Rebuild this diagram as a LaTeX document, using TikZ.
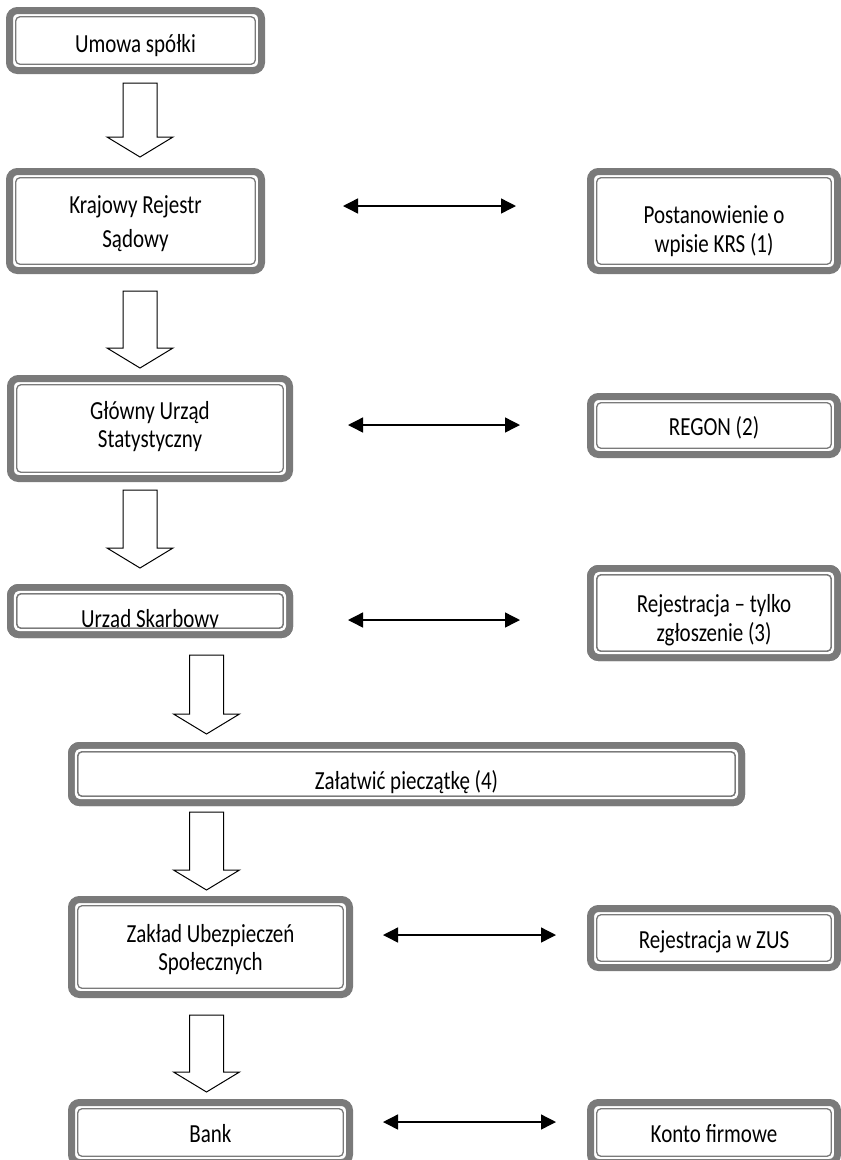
\documentclass[tikz,border=0pt]{standalone}
\usepackage{fontspec}
\setmainfont{Carlito}
\usepackage{graphicx}
\usetikzlibrary{arrows.meta}
\definecolor{boxgray}{RGB}{122,122,122}
% #1 raise of first baseline above centre (pt), #2 baselineskip before scaling, #3 lines
\newcommand\T[3]{\raisebox{#1pt}[0pt][0pt]{\scalebox{1}[1.24]{\fontsize{21}{#2}\selectfont\begin{tabular}[t]{@{}c@{}}#3\end{tabular}}}}
% #1 centre x, #2 top y, #3 tip y
\newcommand\blockarrow[3]{\draw[barrow] ({#1-17},#2) -- ({#1+17},#2) -- ({#1+17},{#3-20}) -- ({#1+33},{#3-20}) -- (#1,#3) -- ({#1-33},{#3-20}) -- ({#1-17},{#3-20}) -- cycle;}
% redraw a box frame over its text (text clipped by the frame, as in the reference)
\newcommand\reframe[1]{%
  \draw[boxgray, line width=7pt, rounded corners=8pt] ([shift={(3.5pt,-3.5pt)}]#1.north west) rectangle ([shift={(-3.5pt,3.5pt)}]#1.south east);
  \draw[white, line width=2.4pt, rounded corners=5pt] ([shift={(8pt,-8pt)}]#1.north west) rectangle ([shift={(-8pt,8pt)}]#1.south east);
  \draw[boxgray, line width=1.3pt, rounded corners=4pt] ([shift={(9.8pt,-9.8pt)}]#1.north west) rectangle ([shift={(-9.8pt,9.8pt)}]#1.south east);}
\tikzset{
  box/.style={draw=boxgray, line width=7pt, rounded corners=8pt, fill=white, inner sep=0pt,
    path picture={\draw[boxgray, line width=1.3pt, rounded corners=4pt]
      ([shift={(6.3pt,-6.3pt)}]path picture bounding box.north west) rectangle
      ([shift={(-6.3pt,6.3pt)}]path picture bounding box.south east);}},
  barrow/.style={draw=black, line width=1pt, fill=white, line join=miter},
  dblarrow/.style={line width=1.4pt, {Triangle[length=15pt,width=15pt]}-{Triangle[length=15pt,width=15pt]}}
}
\begin{document}
\begin{tikzpicture}[x=1pt,y=-1pt]
\useasboundingbox[fill=white] (0,0) rectangle (841,1160);

% left column
\node[box, minimum width=252pt, minimum height=60pt] (A) at (135.5,40.5) {\T{-11.5}{20}{Umowa spółki}};
\node[box, minimum width=252pt, minimum height=99pt] (B) at (135.5,221) {\T{8}{28.2}{Krajowy Rejestr\\Sądowy}};
\node[box, minimum width=279pt, minimum height=100pt] (C) at (150,428.5) {\T{9.5}{22.6}{Główny Urząd\\Statystyczny}};
\node[box, minimum width=279pt, minimum height=47pt] (D) at (150,611) {\T{-16.5}{20}{Urząd Skarbowy}};
\node[box, minimum width=670pt, minimum height=57pt] (E) at (406.5,774) {\T{-15}{20}{Załatwić pieczątkę (4)}};
\node[box, minimum width=278pt, minimum height=95pt] (F) at (210.5,947) {\T{5}{22.6}{Zakład Ubezpieczeń\\Społecznych}};
\node[box, minimum width=278pt, minimum height=60pt] (G) at (210.5,1132.5) {\T{-9.5}{20}{Bank}};

% right column
\node[box, minimum width=247pt, minimum height=99pt] (P) at (714,221) {\T{-2}{23.4}{Postanowienie o\\wpisie KRS (1)}};
\node[box, minimum width=247pt, minimum height=58pt] (R) at (714,425.5) {\T{-9.5}{20}{REGON (2)}};
\node[box, minimum width=247pt, minimum height=89pt] (S) at (714,613) {\T{1}{23.4}{Rejestracja – tylko\\zgłoszenie (3)}};
\node[box, minimum width=247pt, minimum height=59pt] (Z) at (714,938) {\T{-10}{20}{Rejestracja w ZUS}};
\node[box, minimum width=247pt, minimum height=60pt] (K) at (714,1132.5) {\T{-9.5}{20}{Konto firmowe}};

\reframe{D}
\reframe{E}
\reframe{S}

% block arrows
\blockarrow{140}{83}{157}
\blockarrow{140}{291}{368}
\blockarrow{140}{490}{568}
\blockarrow{206.5}{655}{734}
\blockarrow{206.5}{812}{890}
\blockarrow{206.5}{1015}{1092}

% double arrows
\coordinate (b1) at (343,206);  \coordinate (p1) at (516,206);
\coordinate (c1) at (348,425);  \coordinate (r1) at (520,425);
\coordinate (d1) at (348,620);  \coordinate (s1) at (520,620);
\coordinate (f1) at (383,935);  \coordinate (z1) at (556,935);
\coordinate (g1) at (383,1122); \coordinate (k1) at (556,1122);
\draw[dblarrow] (b1) -- (p1);
\draw[dblarrow] (c1) -- (r1);
\draw[dblarrow] (d1) -- (s1);
\draw[dblarrow] (f1) -- (z1);
\draw[dblarrow] (g1) -- (k1);
\end{tikzpicture}
\end{document}
